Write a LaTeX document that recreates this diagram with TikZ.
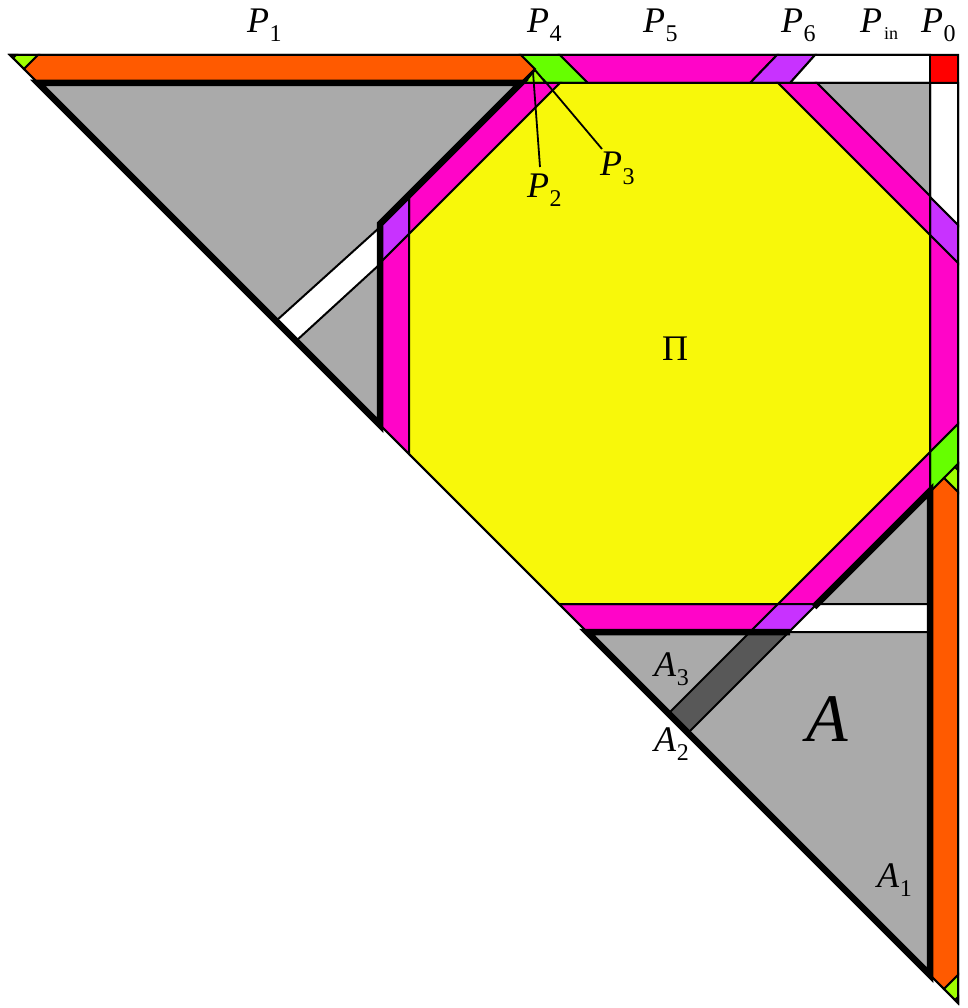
\documentclass[tikz,border=0pt]{standalone}
\usepackage{fontspec}
\setmainfont{Liberation Serif}
\definecolor{cOrng}{RGB}{255,90,0}
\definecolor{cLime}{RGB}{102,255,0}
\definecolor{cLgrn}{RGB}{160,255,0}
\definecolor{cMag}{RGB}{255,5,200}
\definecolor{cPurp}{RGB}{200,50,255}
\definecolor{cYel}{RGB}{248,248,10}
\definecolor{cGry}{RGB}{170,170,170}
\definecolor{cDgry}{RGB}{88,88,88}
\definecolor{cRed}{RGB}{255,0,0}
\newcommand{\labsub}[2]{\textit{#1}\kern0.5pt\raisebox{-9pt}{\fontsize{24}{24}\selectfont #2}}
\begin{document}
\begin{tikzpicture}[x=1pt,y=-1pt,
  piece/.style={draw=black,line width=2pt,line join=miter},
  heavy/.style={draw=black,line width=6.5pt,line join=miter},
  lbl/.style={inner sep=0pt,anchor=base west,font=\fontsize{36}{40}\selectfont}]
\useasboundingbox (0,0) rectangle (967,1008);
% ---- top strip
\filldraw[piece,fill=cLgrn] (10,55) -- (38,55) -- (24,69) -- cycle;
\filldraw[piece,fill=cYel] (10,55) -- (16,55) -- (13,58) -- cycle;
\filldraw[piece,fill=cOrng] (38,55) -- (521,55) -- (535,69) -- (521,83) -- (38,83) -- (24,69) -- cycle;
\filldraw[piece,fill=cLime] (521,55) -- (560,55) -- (588,83) -- (521,83) -- (535,69) -- cycle;
\filldraw[piece,fill=cLgrn] (535,70) -- (546,83) -- (524,83) -- cycle;
\filldraw[piece,fill=cMag] (560,55) -- (777,55) -- (750,83) -- (588,83) -- cycle;
\filldraw[piece,fill=cPurp] (777,55) -- (815,55) -- (790,83) -- (750,83) -- cycle;
\filldraw[piece,fill=white] (815,55) -- (930,55) -- (930,83) -- (790,83) -- cycle;
\filldraw[piece,fill=cRed] (930,55) rectangle (958,83);
% ---- right strip
\filldraw[piece,fill=white] (930,83) -- (958,83) -- (958,225) -- (930,197) -- cycle;
\filldraw[piece,fill=cPurp] (930,197) -- (958,225) -- (958,263) -- (930,235) -- cycle;
\filldraw[piece,fill=cMag] (930,235) -- (958,263) -- (958,424) -- (930,452) -- cycle;
\filldraw[piece,fill=cLime] (930,452) -- (958,424) -- (958,464) -- (944,478) -- (930,492) -- cycle;
\filldraw[piece,fill=cLgrn] (944,478) -- (958,464) -- (958,492) -- cycle;
\filldraw[piece,fill=cYel] (958,464) -- (958,470) -- (955,467) -- cycle;
\filldraw[piece,fill=cOrng] (930,492) -- (944,478) -- (958,492) -- (958,975) -- (944,989) -- (930,975) -- cycle;
\filldraw[piece,fill=cLgrn] (944,989) -- (958,975) -- (958,1003) -- cycle;
\filldraw[piece,fill=cYel] (958,1003) -- (958,997) -- (955,1000) -- cycle;
% ---- gray regions
\filldraw[piece,fill=cGry] (38,83) -- (520,83) -- (380,223) -- (380,425) -- cycle;
\filldraw[piece,fill=cGry] (817,83) -- (930,83) -- (930,196) -- cycle;
\filldraw[piece,fill=cGry] (930,491) -- (930,975) -- (587,632) -- (789,632) -- cycle;
\filldraw[piece,fill=cDgry] (750,632) -- (789,632) -- (688,733) -- (668.5,713.5) -- cycle;
% ---- ring around the octagon
\filldraw[piece,fill=cMag] (409,194) -- (520,83) -- (560,83) -- (409,234) -- cycle;
\filldraw[piece,fill=cPurp] (381,222) -- (409,194) -- (409,234) -- (381,262) -- cycle;
\filldraw[piece,fill=cMag] (381,262) -- (409,234) -- (409,454) -- (381,426) -- cycle;
\filldraw[piece,fill=cMag] (778,83) -- (817,83) -- (930,196) -- (930,235) -- cycle;
\filldraw[piece,fill=cMag] (930,452) -- (930,491) -- (817,604) -- (778,604) -- cycle;
\filldraw[piece,fill=cMag] (559,604) -- (778,604) -- (750,632) -- (587,632) -- cycle;
\filldraw[piece,fill=cPurp] (778,604) -- (817,604) -- (789,632) -- (750,632) -- cycle;
\filldraw[piece,fill=cYel] (560,83) -- (778,83) -- (930,235) -- (930,452) -- (778,604) -- (559,604) -- (409,454) -- (409,234) -- cycle;
% ---- white bands
\filldraw[piece,fill=white] (817,604) -- (930,604) -- (930,632) -- (789,632) -- cycle;
\filldraw[piece,fill=white] (276,321) -- (379,228) -- (379,265) -- (296,341) -- cycle;
% ---- heavy borders
\draw[heavy] (38,83) -- (521,83) -- (380,224) -- (380,425) -- cycle;
\draw[heavy] (814,607) -- (930,491) -- (930,975) -- (587,632) -- (790,632);
% ---- outer triangle
\draw[piece] (10,55) -- (958,55) -- (958,1003) -- cycle;
% ---- labels
\node[lbl] (P1) at (247,33) {\labsub{P}{1}};
\node[lbl] (P4) at (527,33) {\labsub{P}{4}};
\node[lbl] (P5) at (643,33) {\labsub{P}{5}};
\node[lbl] (P6) at (781,33) {\labsub{P}{6}};
\node[lbl] (Pin) at (860,33) {\textit{P}\kern2pt\raisebox{-7pt}{\fontsize{18}{18}\selectfont in}};
\node[lbl] (P0) at (921,33) {\labsub{P}{0}};
\node[lbl] (P2) at (527,198) {\labsub{P}{2}};
\node[lbl] (P3) at (600,176) {\labsub{P}{3}};
\node[lbl] (Pi) at (662,360) {Π};
\node[lbl] (A3) at (654,676) {\labsub{A}{3}};
\node[lbl] (A2) at (654,751) {\labsub{A}{2}};
\node[lbl,font=\fontsize{68}{70}\selectfont] (A) at (806,741) {\textit{A}};
\node[lbl] (A1) at (877,887) {\labsub{A}{1}};
% ---- pointers
\coordinate (p2a) at (540,167);
\coordinate (p2b) at (533,72);
\coordinate (p3a) at (602,149);
\coordinate (p3b) at (543,79);
\draw[line width=1.8pt] (p2a) -- (p2b);
\draw[line width=1.8pt] (p3a) -- (p3b);
\end{tikzpicture}
\end{document}
